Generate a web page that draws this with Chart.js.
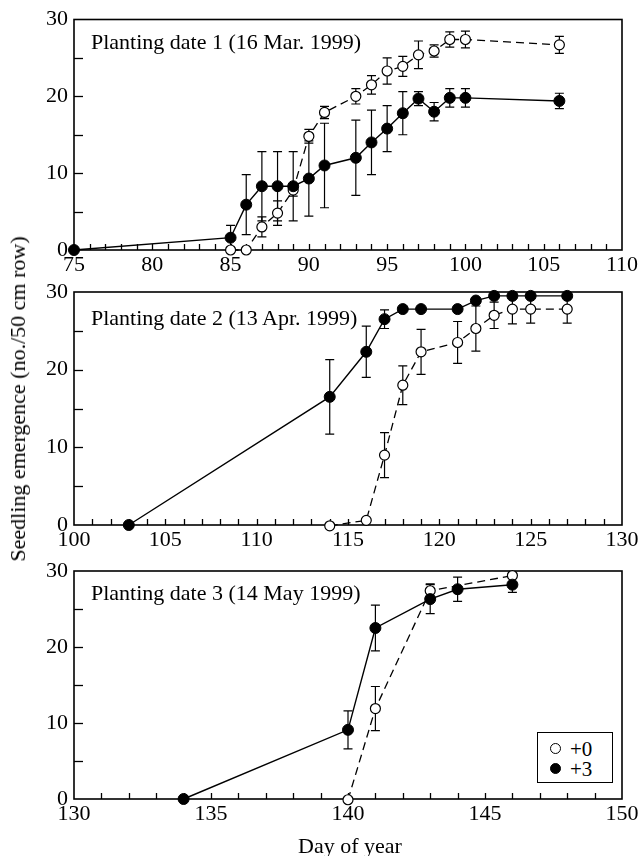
<!DOCTYPE html>
<html>
<head>
<meta charset="utf-8">
<script src="https://cdn.jsdelivr.net/npm/chart.js@4.4.1/dist/chart.umd.min.js"></script>
<style>
  body { margin: 0; background: #fff; }
  #wrap { position: relative; width: 644px; height: 856px; font-family: 'Liberation Serif', serif; color: #000; }
  .panel { position: absolute; left: 0; }
  .ptitle { position: absolute; left: 91px; font-size: 22px; line-height: 22px; white-space: nowrap; }
  #ytitle { position: absolute; left: 18px; top: 399px; font-size: 22px; white-space: nowrap;
            transform: translate(-50%, -50%) rotate(-90deg); }
  #xtitle { position: absolute; left: 350px; top: 846px; font-size: 22px; white-space: nowrap;
            transform: translate(-50%, -50%); }
  #legend { position: absolute; left: 537px; top: 732px; width: 74px; height: 49px; border: 1.3px solid #000; background: #fff; }
  .lrow { position: absolute; left: 0; height: 20px; }
  .dot { position: absolute; left: 12px; width: 11px; height: 11px; border-radius: 50%; box-sizing: border-box; border: 1.3px solid #000; }
  .ltxt { position: absolute; left: 32px; font-size: 21px; line-height: 20px; }
</style>
</head>
<body>
<div id="wrap">
  <div class="panel" style="top:0px"><canvas id="chart1" width="644" height="285"></canvas></div>
  <div class="panel" style="top:272px"><canvas id="chart2" width="644" height="288"></canvas></div>
  <div class="panel" style="top:551px"><canvas id="chart3" width="644" height="283"></canvas></div>
  <div class="ptitle" style="top:31px">Planting date 1 (16 Mar. 1999)</div>
  <div class="ptitle" style="top:307px">Planting date 2 (13 Apr. 1999)</div>
  <div class="ptitle" style="top:582px">Planting date 3 (14 May 1999)</div>
  <div id="ytitle">Seedling emergence (no./50 cm row)</div>
  <div id="xtitle">Day of year</div>
  <div id="legend">
    <div class="lrow" style="top:6px"><div class="dot" style="top:4px;background:#fff"></div><span class="ltxt">+0</span></div>
    <div class="lrow" style="top:26px"><div class="dot" style="top:4px;background:#000"></div><span class="ltxt">+3</span></div>
  </div>
</div>
<script>
// planting date 1
const p1OpenDays = [85, 86, 87, 88, 89, 90, 91, 93, 94, 95, 96, 97, 98, 99, 100, 106];
const p1OpenVals = [0, 0, 3.0, 4.8, 7.8, 14.8, 17.9, 20.0, 21.5, 23.3, 23.9, 25.4, 25.9, 27.4, 27.4, 26.7];
const p1OpenErr  = [0, 0, 1.3, 1.6, 0.8, 0.9, 0.8, 1.0, 1.2, 1.7, 1.3, 1.8, 0.8, 1.0, 1.1, 1.1];
const p1FillDays = [75, 85, 86, 87, 88, 89, 90, 91, 93, 94, 95, 96, 97, 98, 99, 100, 106];
const p1FillVals = [0, 1.6, 5.9, 8.3, 8.3, 8.3, 9.3, 11.0, 12.0, 14.0, 15.8, 17.8, 19.7, 18.0, 19.8, 19.8, 19.4];
const p1FillErr  = [0, 1.6, 3.9, 4.5, 4.5, 4.5, 4.9, 5.5, 4.9, 4.2, 3.0, 2.8, 0.9, 1.2, 1.2, 1.2, 1.0];

// planting date 2
const p2OpenDays = [114, 116, 117, 118, 119, 121, 122, 123, 124, 125, 127];
const p2OpenVals = [-0.1, 0.6, 9.0, 18.0, 22.3, 23.5, 25.3, 27.0, 27.8, 27.8, 27.8];
const p2OpenErr  = [0, 0, 2.9, 2.5, 2.9, 2.7, 2.9, 1.7, 1.9, 1.8, 1.8];
const p2FillDays = [103, 114, 116, 117, 118, 119, 121, 122, 123, 124, 125, 127];
const p2FillVals = [0, 16.5, 22.3, 26.5, 27.8, 27.8, 27.8, 28.9, 29.5, 29.5, 29.5, 29.5];
const p2FillErr  = [0, 4.8, 3.3, 1.2, 0, 0, 0, 0, 0, 0, 0, 0];

// planting date 3
const p3OpenDays = [140, 141, 143, 146];
const p3OpenVals = [-0.1, 11.9, 27.4, 29.4];
const p3OpenErr  = [0, 2.9, 0.9, 0.3];
const p3FillDays = [134, 140, 141, 143, 144, 146];
const p3FillVals = [0, 9.1, 22.5, 26.3, 27.6, 28.2];
const p3FillErr  = [0, 2.5, 3.0, 1.9, 1.6, 1.0];

const yTicks = [0, 10, 20, 30];

function toPoints(days, vals, errs) {
    return days.map(function(d, i) { return { x: d, y: vals[i], err: errs[i] }; });
}

// frame, inward ticks and error bars
const framePlugin = {
    id: 'frame',
    beforeDatasetsDraw(chart) {
        const ctx = chart.ctx;
        const a = chart.chartArea;
        const xs = chart.scales.x;
        const ys = chart.scales.y;
        ctx.save();
        ctx.strokeStyle = '#000';
        ctx.lineWidth = 1.3;
        //x ticks every day
        for (let d = xs.min + 1; d < xs.max; d++) {
            const px = Math.round(xs.getPixelForValue(d)) + 0.5;
            ctx.beginPath();
            ctx.moveTo(px, a.bottom);
            ctx.lineTo(px, a.bottom - 6);
            ctx.stroke();
        }
        //y ticks every 5
        for (let v = 5; v < 30; v += 5) {
            const py = Math.round(ys.getPixelForValue(v)) + 0.5;
            ctx.beginPath();
            ctx.moveTo(a.left, py);
            ctx.lineTo(a.left + 9, py);
            ctx.stroke();
        }
        ctx.lineWidth = 1.6;
        ctx.strokeRect(a.left, a.top, a.right - a.left, a.bottom - a.top);

        //error bars
        ctx.lineWidth = 1.2;
        chart.data.datasets.forEach(function(ds) {
            ds.data.forEach(function(p) {
                if (!p.err) return;
                const px = xs.getPixelForValue(p.x);
                const lo = ys.getPixelForValue(p.y - p.err);
                const hi = ys.getPixelForValue(p.y + p.err);
                ctx.beginPath();
                ctx.moveTo(px, lo);
                ctx.lineTo(px, hi);
                ctx.moveTo(px - 4.5, lo);
                ctx.lineTo(px + 4.5, lo);
                ctx.moveTo(px - 4.5, hi);
                ctx.lineTo(px + 4.5, hi);
                ctx.stroke();
            });
        });
        ctx.restore();
    }
};

function makeChart(id, xmin, xmax, padTop, openPts, fillPts) {
    const canvas = document.getElementById(id);
    return new Chart(canvas, {
        type: 'scatter',
        data: {
            datasets: [
                {
                    label: '+3',
                    data: fillPts,
                    showLine: true,
                    borderColor: '#000',
                    borderWidth: 1.4,
                    pointRadius: 5.5,
                    pointBackgroundColor: '#000',
                    pointBorderColor: '#000',
                    pointBorderWidth: 1,
                    clip: false
                },
                {
                    label: '+0',
                    data: openPts,
                    showLine: true,
                    borderColor: '#000',
                    borderWidth: 1.3,
                    borderDash: [8, 5],
                    pointRadius: 5,
                    pointBackgroundColor: '#fff',
                    pointBorderColor: '#000',
                    pointBorderWidth: 1.2,
                    clip: false
                }
            ]
        },
        options: {
            responsive: false,
            animation: false,
            layout: { padding: { top: padTop, right: 22, left: 0, bottom: 0 } },
            plugins: { legend: { display: false }, tooltip: { enabled: false } },
            scales: {
                x: {
                    type: 'linear',
                    min: xmin,
                    max: xmax,
                    grid: { display: false, drawTicks: false },
                    border: { display: false },
                    ticks: {
                        stepSize: 5,
                        padding: 2,
                        color: '#000',
                        font: { family: 'Liberation Serif', size: 22 }
                    },
                    afterFit: function(scale) { scale.height = 35; }
                },
                y: {
                    min: 0,
                    max: 30,
                    grid: { display: false, drawTicks: false },
                    border: { display: false },
                    afterBuildTicks: function(scale) {
                        scale.ticks = yTicks.map(function(v) { return { value: v }; });
                    },
                    ticks: {
                        padding: 6,
                        color: '#000',
                        font: { family: 'Liberation Serif', size: 22 }
                    },
                    afterFit: function(scale) { scale.width = 74; }
                }
            }
        },
        plugins: [framePlugin]
    });
}

makeChart('chart1', 75, 110, 19.5, toPoints(p1OpenDays, p1OpenVals, p1OpenErr), toPoints(p1FillDays, p1FillVals, p1FillErr));
makeChart('chart2', 100, 130, 20, toPoints(p2OpenDays, p2OpenVals, p2OpenErr), toPoints(p2FillDays, p2FillVals, p2FillErr));
makeChart('chart3', 130, 150, 20, toPoints(p3OpenDays, p3OpenVals, p3OpenErr), toPoints(p3FillDays, p3FillVals, p3FillErr));
</script>
</body>
</html>
